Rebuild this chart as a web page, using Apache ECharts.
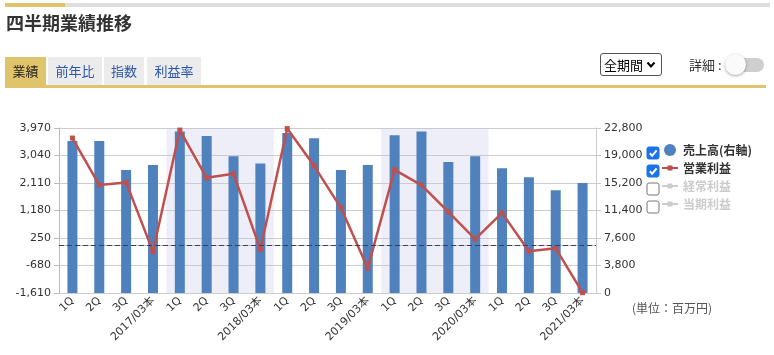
<!DOCTYPE html>
<html><head><meta charset="utf-8">
<script src="https://cdn.jsdelivr.net/npm/echarts@6/dist/echarts.min.js"></script>
<style>
html,body{margin:0;padding:0;background:#fff;width:774px;height:355px;overflow:hidden;font-family:'Noto Sans CJK JP',sans-serif;}
#chart{position:absolute;left:0;top:0;width:774px;height:355px;}
.abs{position:absolute;}
.tab{position:absolute;top:57px;height:28px;line-height:28px;font-size:13px;text-align:center;background:#ececec;color:#2a55a8;}
</style></head><body>
<div id="chart"></div>
<div class="abs" style="left:5px;top:3px;width:60px;height:4px;background:#dfc46b"></div>
<div class="abs" style="left:65px;top:3px;width:705px;height:4px;background:#dedede"></div>
<div class="abs" style="left:6px;top:9px;font-size:18px;font-weight:bold;color:#333;line-height:26px">四半期業績推移</div>
<div class="tab" style="left:5px;width:41px;background:#dfc46b;color:#222">業績</div>
<div class="tab" style="left:48px;width:54px">前年比</div>
<div class="tab" style="left:104px;width:40px">指数</div>
<div class="tab" style="left:147px;width:54px">利益率</div>
<div class="abs" style="left:5px;top:85px;width:761px;height:3px;background:#dfc46b"></div>
<div class="abs" style="left:600px;top:53px;width:60px;height:21px;border:1px solid #555;border-radius:3px;font-size:13px;line-height:21px;color:#000;">
  <span style="position:absolute;left:3px;top:0">全期間</span>
  <svg style="position:absolute;left:45px;top:7px" width="10" height="8" viewBox="0 0 10 8"><polyline points="1.5,1.5 5,5.5 8.5,1.5" fill="none" stroke="#000" stroke-width="2"/></svg>
</div>
<div class="abs" style="left:689px;top:56px;font-size:13px;line-height:18px;color:#333">詳細 :</div>
<div class="abs" style="left:730px;top:58px;width:34px;height:14px;border-radius:7px;background:#cfcfcf"></div>
<div class="abs" style="left:725px;top:54px;width:21px;height:21px;border-radius:50%;background:#fafafa;box-shadow:0 1px 3px rgba(0,0,0,0.35)"></div>
<script>
const categories = ['1Q','2Q','3Q','2017/03本','1Q','2Q','3Q','2018/03本','1Q','2Q','3Q','2019/03本','1Q','2Q','3Q','2020/03本','1Q','2Q','3Q','2021/03本'];
const salesValues = [21000,21000,17000,17700,22300,21700,18900,17900,22100,21400,17000,17700,21800,22300,18100,18900,17250,16000,14200,15200];
const operatingProfitValues = [3630,2040,2130,-210,3900,2285,2420,-130,3950,2690,1270,-770,2555,2040,1130,210,1100,-200,-100,-1600];
const ordinaryProfitValues = [];
const netProfitValues = [];
const leftAxisMin = -1610, leftAxisMax = 3970, leftAxisInterval = 930;
const rightAxisMin = 0, rightAxisMax = 22800, rightAxisInterval = 3800;
const shadedYearRanges = [[4, 8], [12, 16]];
const seriesNames = ['売上高(右軸)', '営業利益', '経常利益', '当期利益'];
const unitLabel = '(単位：百万円)';

const fmt = v => Number(v).toLocaleString('en-US');
const numFont = "'DejaVu Sans', 'Noto Sans CJK JP', sans-serif";
const lineIcon = 'path://M0,0h0.01v0.01h-0.01z M0,12h0.01v-0.01h-0.01z M16,12h-0.01v-0.01h0.01z M0,5h16v2h-16z M5.5,3.5h5v5h-5z';
const chart = echarts.init(document.getElementById('chart'), null, {renderer: 'canvas'});

function checkbox(x, y, checked) {
  const els = [{
    type: 'rect', shape: {x: x, y: y, width: 12, height: 12, r: 2},
    style: checked ? {fill: '#1a73e8', stroke: '#1a73e8', lineWidth: 1} : {fill: '#fff', stroke: '#777', lineWidth: 1}
  }];
  if (checked) {
    els.push({type: 'polyline', shape: {points: [[x + 2.8, y + 6.2], [x + 5.2, y + 8.8], [x + 9.6, y + 3.4]]},
      style: {stroke: '#fff', lineWidth: 2, fill: null}});
  }
  return els;
}

const option = {
  animation: false,
  textStyle: {fontFamily: numFont},
  grid: {left: 59, top: 128, width: 537, height: 165, containLabel: false},
  legend: {
    orient: 'vertical', left: 662, top: 144, padding: 0,
    itemWidth: 16, itemHeight: 12, itemGap: 6,
    data: [{name: seriesNames[0], icon: 'circle'}, {name: seriesNames[1], icon: lineIcon},
      {name: seriesNames[2], icon: lineIcon}, {name: seriesNames[3], icon: lineIcon}],
    selected: {[seriesNames[2]]: false, [seriesNames[3]]: false},
    inactiveColor: '#ccc',
    textStyle: {fontSize: 12, fontWeight: 'bold', color: '#333', fontFamily: "'Noto Sans CJK JP', sans-serif", lineHeight: 12}
  },
  graphic: [].concat(
    checkbox(647, 147, true), checkbox(647, 165, true), checkbox(647, 183, false), checkbox(647, 201, false),
    [{type: 'text', left: 632, top: 302, style: {text: unitLabel, fontSize: 12, fill: '#555', fontFamily: "'Noto Sans CJK JP', sans-serif"}}]
  ),
  xAxis: [{
    type: 'category', data: categories, boundaryGap: true,
    axisLine: {lineStyle: {color: '#bbb'}},
    axisTick: {inside: true, length: 6, lineStyle: {color: '#ccc'}},
    axisLabel: {rotate: 45, interval: 0, fontSize: 11, color: '#333', margin: 6, fontFamily: numFont},
    splitLine: {show: false}
  }],
  yAxis: [{
    type: 'value', position: 'left', min: leftAxisMin, max: leftAxisMax, interval: leftAxisInterval,
    axisLine: {show: true, lineStyle: {color: '#bbb'}},
    axisTick: {show: true, length: 5, lineStyle: {color: '#bbb'}},
    splitLine: {lineStyle: {color: '#ccc'}},
    axisLabel: {formatter: fmt, fontSize: 11, color: '#333', margin: 8, fontFamily: numFont}
  }, {
    type: 'value', position: 'right', min: rightAxisMin, max: rightAxisMax, interval: rightAxisInterval,
    axisLine: {show: true, lineStyle: {color: '#ccc'}},
    axisTick: {show: true, length: 5, lineStyle: {color: '#ccc'}},
    splitLine: {show: false},
    axisLabel: {formatter: fmt, fontSize: 11, color: '#333', margin: 8, fontFamily: numFont}
  }],
  series: [{
    type: 'custom', name: 'shade', silent: true, z: 1, xAxisIndex: 0, yAxisIndex: 0,
    data: shadedYearRanges, encode: {x: 0, y: 1},
    renderItem: function (params, api) {
      const band = api.size([1, 0])[0];
      const x0 = api.coord([api.value(0), 0])[0] - band / 2;
      const x1 = api.coord([api.value(1), 0])[0] - band / 2;
      const cs = params.coordSys;
      return {type: 'rect', shape: {x: x0, y: cs.y, width: x1 - x0, height: cs.height},
        style: {fill: 'rgba(200,200,232,0.3)'}};
    }
  }, {
    type: 'bar', name: seriesNames[0], yAxisIndex: 1, data: salesValues, barWidth: 10,
    itemStyle: {color: '#4f81bd'}, z: 2
  }, {
    type: 'line', name: seriesNames[1], yAxisIndex: 0, data: operatingProfitValues,
    symbol: 'rect', symbolSize: 5, showSymbol: true, z: 4,
    lineStyle: {color: '#c0504d', width: 2.5}, itemStyle: {color: '#c0504d'},
    markLine: {silent: true, symbol: 'none', label: {show: false},
      lineStyle: {type: [5, 3], color: '#3a3a6e', width: 1}, data: [{yAxis: 0}]}
  }, {
    type: 'line', name: seriesNames[2], yAxisIndex: 0, data: ordinaryProfitValues,
    symbol: 'rect', symbolSize: 5, lineStyle: {color: '#9bbb59'}, itemStyle: {color: '#9bbb59'}
  }, {
    type: 'line', name: seriesNames[3], yAxisIndex: 0, data: netProfitValues,
    symbol: 'rect', symbolSize: 5, lineStyle: {color: '#8064a2'}, itemStyle: {color: '#8064a2'}
  }]
};
chart.setOption(option);
</script>
</body></html>
